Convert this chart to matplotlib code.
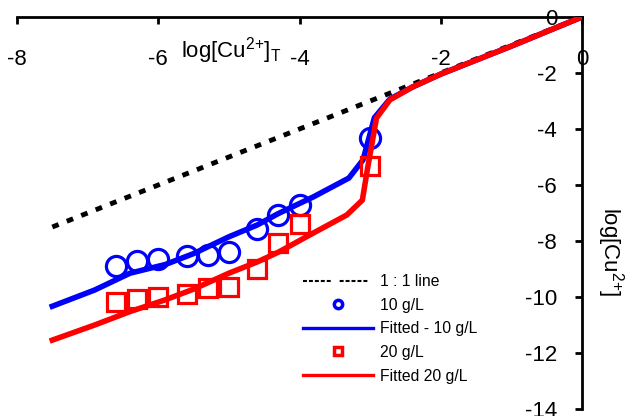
import matplotlib
matplotlib.use('Agg')
import matplotlib.pyplot as plt
from matplotlib.lines import Line2D

plt.rcParams['font.family'] = ['Liberation Sans', 'DejaVu Sans']
plt.rcParams['mathtext.default'] = 'regular'

# ---- data ----
one_to_one_x = [-7.5, 0.0]
one_to_one_y = [-7.5, 0.0]

obs_x = [-6.6, -6.3, -6.0, -5.6, -5.3, -5.0, -4.6, -4.3, -4.0, -3.0]
obs10_y = [-8.88, -8.70, -8.64, -8.54, -8.50, -8.39, -7.57, -7.07, -6.70, -4.32]
obs20_y = [-10.18, -10.07, -10.0, -9.89, -9.68, -9.64, -9.0, -8.07, -7.39, -5.32]

fit10_x = [-7.5, -6.9, -6.4, -5.9, -5.5, -5.0, -4.6, -4.3, -3.8, -3.3, -3.1, -2.94,
           -2.72, -2.4, -2.0, -1.5, -1.0, -0.5, 0.0]
fit10_y = [-10.33, -9.75, -9.15, -8.84, -8.45, -7.85, -7.43, -7.02, -6.42, -5.75, -5.1, -3.6,
           -2.93, -2.5, -2.04, -1.54, -1.04, -0.52, 0.0]

fit20_x = [-7.5, -6.9, -6.4, -5.9, -5.5, -5.0, -4.6, -4.3, -3.8, -3.33, -3.11, -3.04, -2.91,
           -2.72, -2.4, -2.0, -1.5, -1.0, -0.5, 0.0]
fit20_y = [-11.54, -11.0, -10.52, -10.1, -9.72, -9.15, -8.75, -8.4, -7.71, -7.07, -6.54, -5.46, -3.61,
           -2.96, -2.5, -2.04, -1.54, -1.04, -0.52, 0.0]

x_ticks = [-8, -6, -4, -2, 0]
y_ticks = [-14, -12, -10, -8, -6, -4, -2, 0]

labels = ['1 : 1 line', '10 g/L', 'Fitted - 10 g/L', '20 g/L', 'Fitted 20 g/L']

BLUE = '#0000FF'
RED = '#FF0000'

fig = plt.figure(figsize=(6.25, 4.16), dpi=100)
ax = fig.add_axes([17/625, 7/416, 565/625, 392/416])

ax.plot(one_to_one_x, one_to_one_y, color='black', lw=3.5,
        linestyle=(0, (1.4, 1.8)), dash_capstyle='butt', zorder=2)
ax.plot(fit10_x, fit10_y, color=BLUE, lw=4.0, solid_joinstyle='round', zorder=3)
ax.plot(fit20_x, fit20_y, color=RED, lw=4.0, solid_joinstyle='round', zorder=5)
ax.plot(obs_x, obs10_y, 'o', ms=14.5, mfc='none', mec=BLUE, mew=2.3, zorder=4)
ax.plot(obs_x, obs20_y, 's', ms=13.5, mfc='none', mec=RED, mew=2.3, zorder=4)

ax.set_xlim(-8, 0)
ax.set_ylim(-14, 0)
ax.set_xticks(x_ticks)
ax.set_yticks(y_ticks)
ax.set_xticklabels([str(t) for t in x_ticks])
ax.set_yticklabels([str(t) for t in y_ticks])

for s in ['top', 'right']:
    ax.spines[s].set_visible(False)
ax.spines['bottom'].set_position(('data', 0))
ax.spines['left'].set_position(('data', 0))
for s in ['bottom', 'left']:
    ax.spines[s].set_linewidth(2.0)
    ax.spines[s].set_zorder(1)
ax.tick_params(axis='x', direction='out', length=5, width=2.0, labelsize=16, pad=18)
ax.tick_params(axis='y', direction='out', length=5, width=2.0, labelsize=16, pad=13)
ax.set_facecolor('none')

fig.text(231/625, 1 - 58/416, 'log[Cu$^{2{+}}$]$_{T}$', fontsize=16,
         ha='center', va='baseline')
fig.text(610/625, 1 - 252/416, 'log[Cu$^{2{+}}$]', fontsize=16, rotation=-90,
         ha='center', va='center')

handles = [
    Line2D([], [], color='black', lw=1.5,
           dashes=(1.9, 0.95, 1.9, 0.95, 1.9, 0.95, 1.9, 0.95, 1.9, 4.3)),
    Line2D([], [], ls='none', marker='o', ms=6, mfc='none', mec=BLUE, mew=2.5),
    Line2D([], [], color=BLUE, lw=2.4),
    Line2D([], [], ls='none', marker='s', ms=6, mfc='none', mec=RED, mew=2.5),
    Line2D([], [], color=RED, lw=2.4),
]
leg = fig.legend(handles, labels, loc='upper left', bbox_to_anchor=(303/625, 1 - 274/416),
                 frameon=False, fontsize=11.3, handlelength=4.45, handletextpad=0.45,
                 labelspacing=0.55, borderpad=0, borderaxespad=0)

fig.savefig('out.png', dpi=100)
